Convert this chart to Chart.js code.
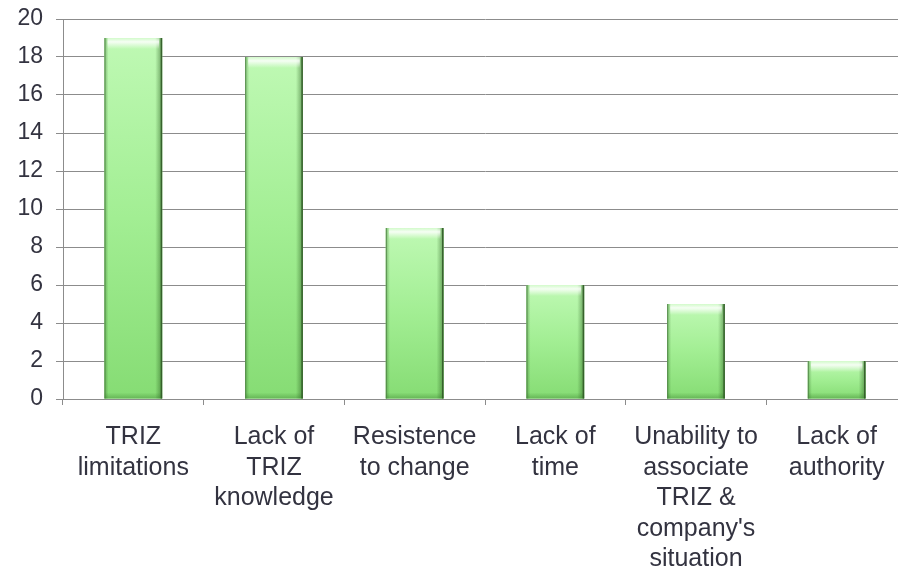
<!DOCTYPE html>
<html>
<head>
<meta charset="utf-8">
<script src="https://cdn.jsdelivr.net/npm/chart.js@4"></script>
<style>
  html, body { margin: 0; padding: 0; background: #fff; overflow: hidden; }
  #wrap { position: relative; width: 910px; height: 572px; }
</style>
</head>
<body>
<div id="wrap"><canvas id="barrierChart"></canvas></div>
<script>
// Categories and counts
const categories = [
  ['TRIZ', 'limitations'],
  ['Lack of', 'TRIZ', 'knowledge'],
  ['Resistence', 'to change'],
  ['Lack of', 'time'],
  ['Unability to', 'associate', 'TRIZ &', "company's", 'situation'],
  ['Lack of', 'authority']
];
const counts = [19, 18, 9, 6, 5, 2];

// Axis range
const yMin = 0;
const yMax = 20;
const yStep = 2;

const textColor = '#333340';
const lineColor = '#8c8c8c';

// Cylinder-like shading drawn over every bar the controller laid out
const barShading = {
  id: 'barShading',
  afterDatasetsDraw(chart) {
    const ctx = chart.ctx;
    const meta = chart.getDatasetMeta(0);
    meta.data.forEach(bar => {
      const left = bar.x - bar.width / 2;
      const right = bar.x + bar.width / 2;
      const top = bar.y;
      const bottom = bar.base;
      const w = right - left;
      const h = bottom - top;
      ctx.save();

      // top-to-bottom body colour
      const vg = ctx.createLinearGradient(0, top, 0, bottom);
      vg.addColorStop(0, '#bff9b4');
      vg.addColorStop(0.5, '#a2ee93');
      vg.addColorStop(1, '#86dc74');
      ctx.fillStyle = vg;
      ctx.fillRect(left, top, w, h);

      // darker sides
      const hg = ctx.createLinearGradient(left, 0, right, 0);
      hg.addColorStop(0, 'rgba(50,110,40,0.45)');
      hg.addColorStop(0.07, 'rgba(50,110,40,0)');
      hg.addColorStop(0.88, 'rgba(40,90,30,0)');
      hg.addColorStop(1, 'rgba(40,90,30,0.55)');
      ctx.fillStyle = hg;
      ctx.fillRect(left, top, w, h);

      // highlight near the top edge
      const cap = Math.min(11, h / 2);
      const tg = ctx.createLinearGradient(0, top, 0, top + cap);
      tg.addColorStop(0, 'rgba(255,255,255,0.3)');
      tg.addColorStop(0.35, 'rgba(255,255,255,0.85)');
      tg.addColorStop(1, 'rgba(255,255,255,0)');
      ctx.fillStyle = tg;
      ctx.fillRect(left + 3, top, w - 6, cap);

      // slightly darker base
      const bg = ctx.createLinearGradient(0, bottom - 6, 0, bottom);
      bg.addColorStop(0, 'rgba(40,110,30,0)');
      bg.addColorStop(1, 'rgba(40,110,30,0.35)');
      ctx.fillStyle = bg;
      ctx.fillRect(left, bottom - 6, w, 6);

      // edge lines
      ctx.fillStyle = 'rgba(80,130,70,0.8)';
      ctx.fillRect(left, top, 1, h);
      ctx.fillStyle = 'rgba(50,90,40,0.9)';
      ctx.fillRect(right - 1.5, top, 1.5, h);
      ctx.restore();
    });
  }
};

const ctx = document.getElementById('barrierChart').getContext('2d');
const barrierChart = new Chart(ctx, {
  type: 'bar',
  data: {
    labels: categories,
    datasets: [{
      data: counts,
      backgroundColor: '#a2ee93',
      borderWidth: 0,
      categoryPercentage: 1,
      barPercentage: 0.41
    }]
  },
  options: {
    responsive: true,
    maintainAspectRatio: false,
    animation: false,
    layout: { padding: { top: 19, right: 3, left: 0, bottom: 0 } },
    plugins: {
      legend: { display: false },
      tooltip: { enabled: false }
    },
    scales: {
      x: {
        offset: true,
        grid: {
          offset: true,
          drawOnChartArea: false,
          color: lineColor,
          tickLength: 6
        },
        border: { color: lineColor, width: 1 },
        ticks: {
          color: textColor,
          padding: 17,
          maxRotation: 0,
          autoSkip: false,
          font: { family: "'Liberation Sans', Arial, sans-serif", size: 25, lineHeight: 1.22 }
        },
        afterFit: scale => { scale.height = 173; }
      },
      y: {
        min: yMin,
        max: yMax,
        grid: { color: lineColor, tickLength: 7 },
        border: { color: lineColor, width: 1 },
        ticks: {
          stepSize: yStep,
          color: textColor,
          padding: 13,
          font: { family: "'Liberation Sans', Arial, sans-serif", size: 23 }
        },
        afterFit: scale => {
          scale.width = 63;
          scale.paddingTop = 0;
          scale.paddingBottom = 0;
        }
      }
    }
  },
  plugins: [barShading]
});
</script>
</body>
</html>
